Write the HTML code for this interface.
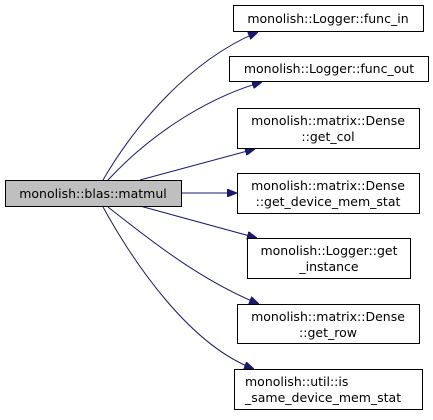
<!DOCTYPE html>
<html><head><style>
html,body{margin:0;padding:0;background:#fff;}
svg text{font-family:"DejaVu Sans","Liberation Sans",sans-serif;font-size:12.5px;fill:#000;}
</style></head><body>
<svg width="433" height="415" viewBox="0 0 433 415" xmlns="http://www.w3.org/2000/svg">
<defs><marker id="a" markerWidth="10" markerHeight="8" refX="10" refY="4" orient="auto" markerUnits="userSpaceOnUse"><path d="M0,0 L10,4 L0,8 z" fill="#191970" stroke="#191970"/></marker></defs>
<g fill="none" stroke="#191970" stroke-width="1">
<path d="M103,180 C135,125 190,60 258,32" marker-end="url(#a)"/>
<path d="M108,180 C145,140 200,100 262,82" marker-end="url(#a)"/>
<path d="M140,180 L255,149" marker-end="url(#a)"/>
<path d="M181,193 L237,193" marker-end="url(#a)"/>
<path d="M140,206 L257,238" marker-end="url(#a)"/>
<path d="M108,207 C150,240 200,280 259,304" marker-end="url(#a)"/>
<path d="M103,207 C135,265 190,345 254,369" marker-end="url(#a)"/>
</g>
<g stroke="#000" stroke-width="1">
<rect x="5.5" y="180.5" width="176" height="26" fill="#bfbfbf"/>
<rect x="233.5" y="5.5" width="190" height="26" fill="#fff"/>
<rect x="229.5" y="56.5" width="199" height="25" fill="#fff"/>
<rect x="237.5" y="108.5" width="182" height="40" fill="#fff"/>
<rect x="237.5" y="173.5" width="182" height="40" fill="#fff"/>
<rect x="247.5" y="238.5" width="163" height="40" fill="#fff"/>
<rect x="237.5" y="304.5" width="182" height="39" fill="#fff"/>
<rect x="234.5" y="369.5" width="188" height="40" fill="#fff"/>
</g>
<g text-anchor="middle">
<text x="93" y="198">monolish::blas::matmul</text>
<text x="328" y="23">monolish::Logger::func_in</text>
<text x="329" y="73">monolish::Logger::func_out</text>
<text x="328" y="125">monolish::matrix::Dense</text>
<text x="328" y="141">::get_col</text>
<text x="328" y="190">monolish::matrix::Dense</text>
<text x="328" y="206">::get_device_mem_stat</text>
<text x="329" y="255">monolish::Logger::get</text>
<text x="329" y="271">_instance</text>
<text x="328" y="321">monolish::matrix::Dense</text>
<text x="328" y="337">::get_row</text>
</g>
<text x="245" y="386">monolish::util::is</text>
<text x="245" y="402">_same_device_mem_stat</text>
</svg>
</body></html>
